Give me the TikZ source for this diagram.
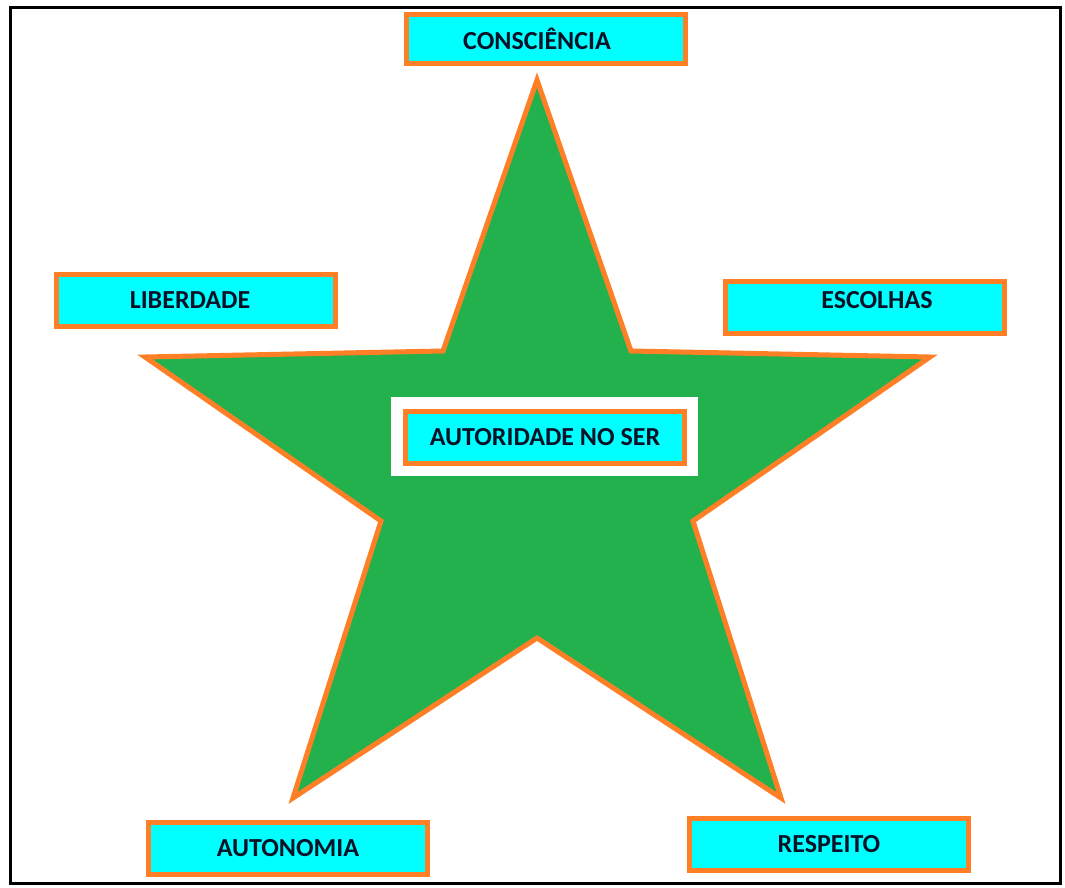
\documentclass[tikz,border=0pt]{standalone}
\usepackage{fontspec}
\setmainfont{Carlito}
\definecolor{stargreen}{RGB}{34,177,76}
\definecolor{starorange}{RGB}{255,127,39}
\definecolor{boxcyan}{RGB}{0,255,255}
\definecolor{labelink}{RGB}{10,18,40}
\tikzset{
  valuebox/.style={draw=starorange, line width=5pt, fill=boxcyan,
    minimum width=279pt, minimum height=52pt, inner sep=0pt,
    font=\fontsize{26}{30}\selectfont\bfseries, text=labelink},
}
\begin{document}
\begin{tikzpicture}[x=1pt, y=-1pt]
            \useasboundingbox (0,0) rectangle (1065,888);

            % Outer frame
             \draw[black, line width=3pt] (10,8) rectangle (1060,883);

            % The star
            \draw[starorange, line width=5pt, fill=stargreen, line join=miter]
              (537,80) -- (631,351) -- (930,357) -- (693,521) -- (781,798)
              -- (537,638) -- (293,798) -- (381,521) -- (145,357) -- (443,351) -- cycle;

            % Values round the star
             \node[valuebox, minimum height=49pt] (conscience) at (546,39) {CONSCIÊNCIA\hspace*{18pt}};
             \node[valuebox] (liberty) at (196,300) {LIBERDADE\hspace*{12pt}};
             \node[valuebox] (choices) at (865,307) {\hspace*{24pt}\raisebox{-1pt}[0pt][0pt]{ESCOLHAS}};
             \node[valuebox] (autonomy) at (288,848) {AUTONOMIA};
             \node[valuebox] (respect) at (829,844) {RESPEITO};

            % Centre of the star
             \fill[white] (391,397) rectangle (698,476);
             \node[valuebox] (core) at (545,437) {AUTORIDADE NO SER};

        \end{tikzpicture}
\end{document}
